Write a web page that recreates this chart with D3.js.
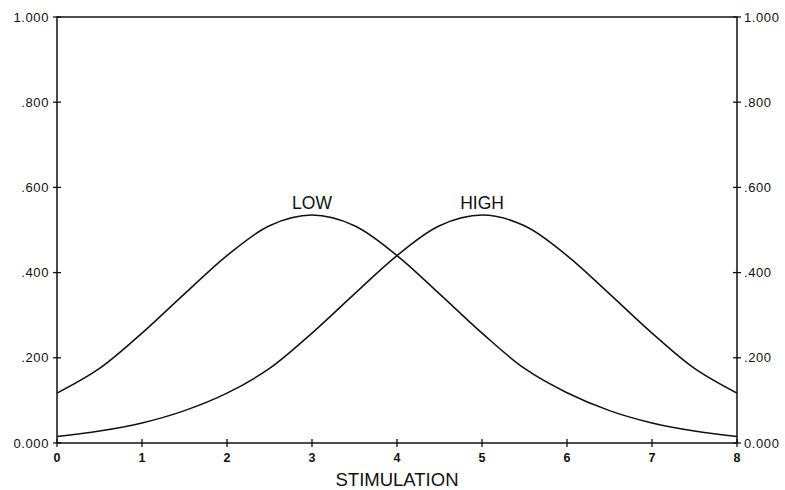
<!DOCTYPE html>
<html>
<head>
<meta charset="utf-8">
<script src="https://cdn.jsdelivr.net/npm/d3@7"></script>
<style>
  body { margin: 0; background: #fff; }
  text { font-family: "Liberation Sans", Arial, sans-serif; fill: #111; }
</style>
</head>
<body>
<div id="chart"></div>
<script>
var W = 785, H = 490;
var margin = { top: 17, right: 48, bottom: 47, left: 57 },
    width  = W - margin.left - margin.right,
    height = H - margin.top - margin.bottom;

// stimulation values
var stim = [0, 0.5, 1, 1.5, 2, 2.5, 3, 3.5, 4, 4.5, 5, 5.5, 6, 6.5, 7, 7.5, 8];
// response curves
var lowVals  = [0.117, 0.175, 0.258, 0.350, 0.440, 0.510, 0.535, 0.510, 0.440, 0.350, 0.258, 0.175, 0.118, 0.076, 0.047, 0.028, 0.015];
var highVals = [0.015, 0.028, 0.047, 0.076, 0.117, 0.175, 0.258, 0.350, 0.440, 0.510, 0.535, 0.510, 0.440, 0.350, 0.258, 0.175, 0.117];
var xTicks = [0, 1, 2, 3, 4, 5, 6, 7, 8];
var yTicks = [0, 0.2, 0.4, 0.6, 0.8, 1.0];
var yTickLabels = ["0.000", ".200", ".400", ".600", ".800", "1.000"];
var curveLabels = [{ name: "LOW", x: 3 }, { name: "HIGH", x: 5 }];

var svg = d3.select('#chart').append('svg')
    .attr('width', W)
    .attr('height', H)
  .append('g')
    .attr('transform', 'translate(' + margin.left + ',' + margin.top + ')');

var x = d3.scaleLinear().domain([0, 8]).range([0, width]);
var y = d3.scaleLinear().domain([0, 1]).range([height, 0]);

// frame
svg.append('rect')
    .attr('width', width)
    .attr('height', height)
    .attr('fill', 'none')
    .attr('stroke', '#111')
    .attr('stroke-width', 1.5);

// bottom ticks (crossing the axis)
svg.selectAll('.xt')
    .data(xTicks)
    .enter().append('line')
    .attr('x1', d => x(d)).attr('x2', d => x(d))
    .attr('y1', height - 4).attr('y2', height + 4)
    .attr('stroke', '#111').attr('stroke-width', 1.3);

svg.selectAll('.xl')
    .data(xTicks)
    .enter().append('text')
    .attr('x', d => x(d))
    .attr('y', height + 19)
    .attr('text-anchor', 'middle')
    .attr('font-size', '12.5px')
    .attr('font-weight', 'bold')
    .text(d => d);

// left and right ticks
[0, width].forEach(function(px) {
  svg.selectAll(null)
      .data(yTicks)
      .enter().append('line')
      .attr('x1', px - 4).attr('x2', px + 4)
      .attr('y1', d => y(d)).attr('y2', d => y(d))
      .attr('stroke', '#111').attr('stroke-width', 1.3);
});

svg.selectAll('.yl')
    .data(yTicks)
    .enter().append('text')
    .attr('x', -8)
    .attr('y', d => y(d))
    .attr('dy', '0.35em')
    .attr('text-anchor', 'end')
    .attr('font-size', '13px')
    .attr('letter-spacing', '0.6px')
    .text((d, i) => yTickLabels[i]);

svg.selectAll('.yr')
    .data(yTicks)
    .enter().append('text')
    .attr('x', width + 7)
    .attr('y', d => y(d))
    .attr('dy', '0.35em')
    .attr('text-anchor', 'start')
    .attr('font-size', '13px')
    .attr('letter-spacing', '0.6px')
    .text((d, i) => yTickLabels[i]);

// curves
var line = d3.line()
    .x((d, i) => x(stim[i]))
    .y(d => y(d))
    .curve(d3.curveCatmullRom);

[lowVals, highVals].forEach(function(vals) {
  svg.append('path')
      .datum(vals)
      .attr('d', line)
      .attr('fill', 'none')
      .attr('stroke', '#111')
      .attr('stroke-width', 1.5);
});

svg.selectAll('.cl')
    .data(curveLabels)
    .enter().append('text')
    .attr('x', d => x(d.x))
    .attr('y', y(0.535) - 6)
    .attr('text-anchor', 'middle')
    .attr('font-size', '17.5px')
    .text(d => d.name);

svg.append('text')
    .attr('x', width / 2)
    .attr('y', height + 43)
    .attr('text-anchor', 'middle')
    .attr('font-size', '18.5px')
    .text('STIMULATION');
</script>
</body>
</html>
